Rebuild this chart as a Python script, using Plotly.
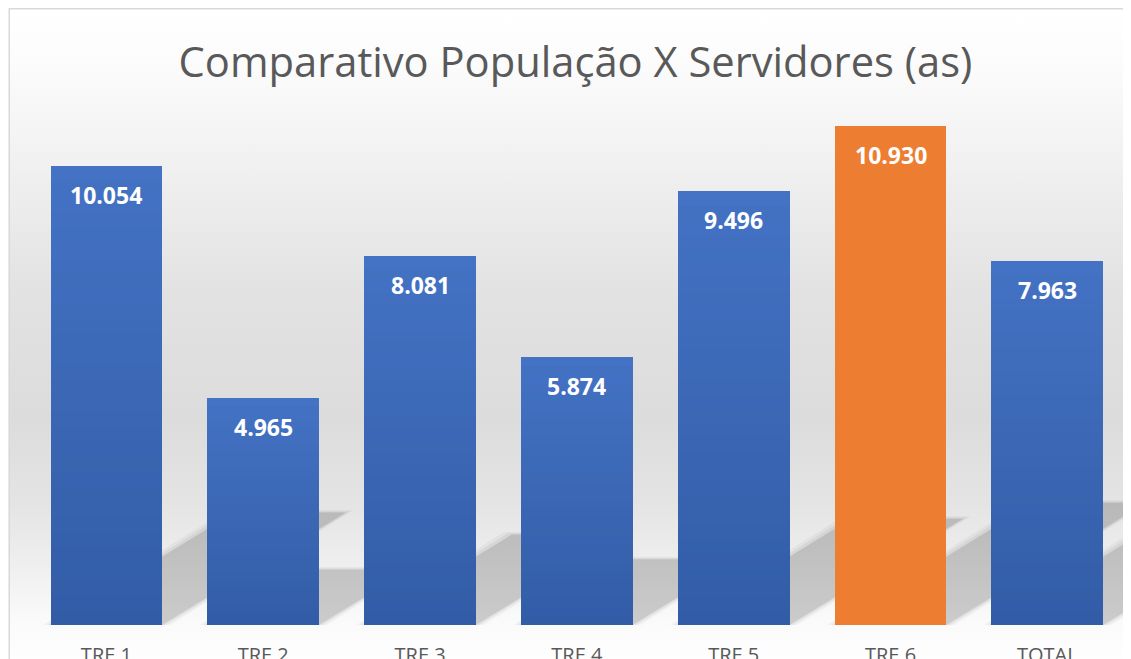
import base64
import plotly.graph_objects as go

# ---- data ----
categories = ["TRE 1", "TRE 2", "TRE 3", "TRE 4", "TRE 5", "TRE 6", "TOTAL"]
values = [10054, 4965, 8081, 5874, 9496, 10930, 7963]
highlight = "TRE 6"
title_text = "Comparativo População X Servidores (as)"

# ---- style ----
# the page body has an 8px margin; the figure is placed to line up with the window
W, H = 1123, 651
ML, MR, MT, MB = 19.5, 8, 69, 34
PW, PH = W - ML - MR, H - MT - MB
CAT_PX = 156.9
X_RIGHT = (len(categories) - 1) + (PW - (len(categories) - 0.5) * CAT_PX) / CAT_PX
BLUE_TOP = (68, 114, 196)
BLUE_BOT = (50, 92, 166)
ORANGE = "#ED7D31"
TXT = "#595959"
FONT = "Open Sans"
YMAX = 12000


def px_x(px):
    return (px - ML) / PW


def px_y(py):
    return 1 - (py - MT) / PH


def fmt(v):
    return f"{v:,.0f}".replace(",", ".")


# background gradient (Excel style) as an svg image
stops = [(0.0, "#FFFFFF"), (0.08, "#FCFCFC"), (0.22, "#F2F2F2"), (0.44, "#E2E2E2"),
         (0.63, "#DCDCDC"), (0.76, "#E4E4E4"), (0.85, "#EEEEEE"), (0.94, "#FAFAFA"),
         (1.0, "#FEFEFE")]
stop_xml = "".join(f'<stop offset="{o}" stop-color="{c}"/>' for o, c in stops)
svg = (f'<svg xmlns="http://www.w3.org/2000/svg" width="{W}" height="{H}" '
       f'viewBox="0 0 {W} {H}" preserveAspectRatio="none">'
       f'<defs><linearGradient id="g" x1="0" y1="0" x2="0" y2="1">{stop_xml}</linearGradient></defs>'
       f'<rect x="0" y="0" width="{W - 3}" height="{H}" fill="url(#g)"/></svg>')
bg_src = "data:image/svg+xml;base64," + base64.b64encode(svg.encode()).decode()

fig = go.Figure()

xs = list(range(len(categories)))
N = 30
for k in range(N):
    t = (k + 0.5) / N
    rgb = tuple(round(BLUE_BOT[j] + (BLUE_TOP[j] - BLUE_BOT[j]) * t) for j in range(3))
    blue = f"rgb{rgb}"
    colors = [ORANGE if c == highlight else blue for c in categories]
    fig.add_trace(go.Bar(
        x=xs, y=[v / N for v in values],
        marker=dict(color=colors, line=dict(width=0)),
        showlegend=False, hoverinfo="skip",
    ))

# value labels
for i, v in enumerate(values):
    fig.add_annotation(x=i, y=v, yshift=-29, text=fmt(v), showarrow=False,
                       yanchor="middle", xanchor="center",
                       font=dict(family=FONT, size=23, color="white", weight="bold"))

# perspective shadows, derived from the bar heights (soft edges via layered fills)
BW = 1 - 0.287
K = 0.245                      # vertical extent, fraction of the bar value
S = 0.40 * 548 / YMAX / CAT_PX  # horizontal extent, categories per value unit
shapes = []
for i, v in enumerate(values):
    xl, xr = i - BW / 2, i + BW / 2
    dx, dy = S * v, K * v
    for grow, alpha in [(0.05, 0.035), (0.025, 0.05), (0.0, 0.11)]:
        gy = grow * 1100
        path = (f"M {xl - grow},0 L {xr + grow},0 L {xr + dx + grow},{dy + gy} "
                f"L {xl + dx - grow},{dy + gy} Z")
        shapes.append(dict(type="path", path=path, xref="x", yref="y", layer="below",
                           fillcolor=f"rgba(0,0,0,{alpha})", line=dict(width=0)))

# chart border
shapes.append(dict(type="line", xref="paper", yref="paper", x0=px_x(0.5), x1=px_x(W),
                   y0=px_y(0.75), y1=px_y(0.75), line=dict(color="#D9D9D9", width=1.5)))
shapes.append(dict(type="line", xref="paper", yref="paper", x0=px_x(0.75), x1=px_x(0.75),
                   y0=px_y(0.5), y1=px_y(H), line=dict(color="#D9D9D9", width=1.5)))

fig.update_layout(
    width=W, height=H,
    margin=dict(l=ML, r=MR, t=MT, b=MB, pad=0, autoexpand=False),
    paper_bgcolor="white", plot_bgcolor="rgba(0,0,0,0)",
    barmode="stack", bargap=0.287,
    title=dict(text=title_text, x=0.5, xref="paper", xanchor="center",
               y=1 - 54 / H, yref="container", yanchor="middle",
               font=dict(family=FONT, size=41.7, color=TXT), automargin=False),
    xaxis=dict(range=[-0.5, X_RIGHT], tickvals=xs, ticktext=categories,
               showgrid=False, zeroline=False, showline=False, ticks="",
               tickfont=dict(family=FONT, size=20, color=TXT), ticklabelstandoff=16,
               automargin=False, fixedrange=True),
    yaxis=dict(range=[0, YMAX], showgrid=False, zeroline=False, showline=False,
               showticklabels=False, ticks="", automargin=False, fixedrange=True),
    images=[dict(source=bg_src, xref="paper", yref="paper", x=px_x(0), y=px_y(0),
                 sizex=W / PW, sizey=H / PH, xanchor="left", yanchor="top",
                 sizing="stretch", layer="below")],
    shapes=shapes,
    showlegend=False,
)

fig.write_html("out.html")
